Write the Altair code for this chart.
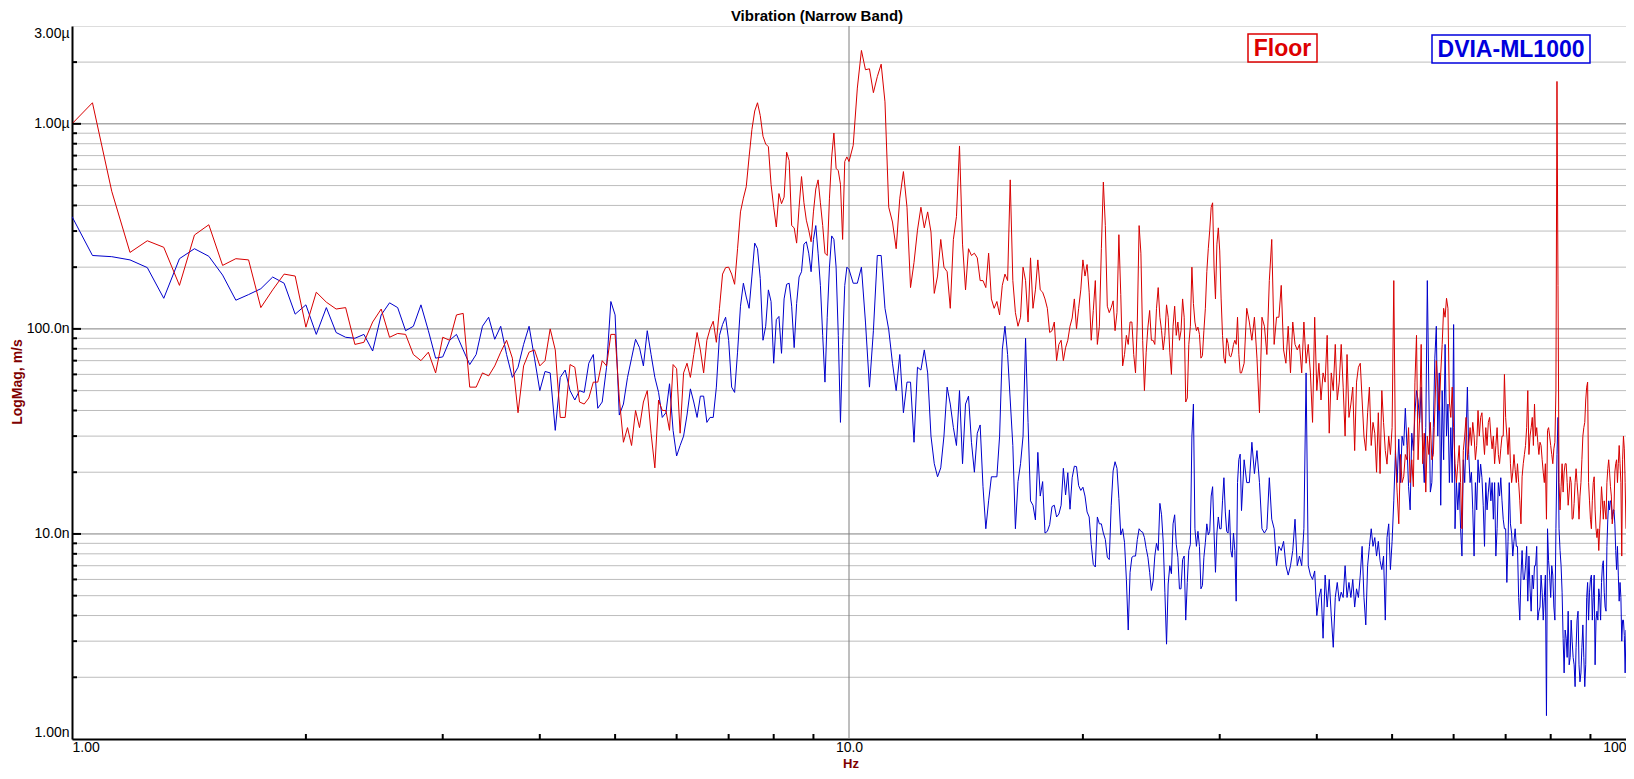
import altair as alt
import pandas as pd

# ---------------- data (magnitudes in nm/s) ----------------
# frequency grids: (start Hz, step Hz)
grid_a = (1.0, 0.0625)
grid_b = (10.0, 0.125)
grid_c = (18.0, 0.125)
grid_e = (32.0, 0.25)
grid_d = (50.0, 0.25)

floor_a = [1000,1267,469,236,269,250,163,287,322,204,220,217,127,155,185,181,
           102,151,135,125,127,84,86,108,125,91,95,94,75,70,77,61,
           91,88,117,119,52,52,61,59,66,77,88,72,39,66,77,79,
           66,70,100,79,37,37,67,65,44,43,46,55,55,70,66,94,
           94,46,28,33,27,40,33,44,50,31,21,45,40,40,32,67,
           64,31,61,68,58,75,96,79,61,88,100,109,86,126,185,199,
           200,185,165,246,372,434,494,690,940,1155,1267,1097,870,797,773,507,
           392,314,457,408,439,727,662,319,311,262,392,553,412,339,303,266,
           372,481,533,412,319,234,228,434,690,902,607,591,507,273,655,690]
dvia_a = [353,228,225,217,199,141,220,246,226,183,138,147,157,179,167,118,
          131,94,127,96,91,90,94,78,117,134,127,98,103,131,98,72,
          73,88,94,79,67,75,103,114,89,103,75,58,65,84,103,72,
          50,62,61,32,58,63,50,45,50,49,68,75,41,44,65,136,
          117,38,43,58,72,89,81,66,98,75,58,49,37,39,54,32,
          24,27,30,38,51,44,37,47,47,35,37,37,52,93,105,114,
          88,52,49,77,129,167,143,126,181,262,246,176,88,103,155,136,
          68,111,115,76,140,165,167,129,81,133,179,190,259,266,234,190,
          273,319,234,163,93,55,114,200,284,273,200,93,35,84,163,200]

floor_b = [655,785,1494,2280,1836,1855,1419,1698,
           1954,1280,392,332,246,434,585,392,
           159,211,303,392,311,372,297,149,
           181,273,200,190,126,273,353,780,
           259,155,246,228,234,222,172,172,
           159,234,140,126,136,117,163,185,
           172,533,172,120,103,114,200,172,
           108,222,126,155,217,155,151,140]
dvia_b = [195,167,167,200,108,52,98,228,
          228,126,99,68,50,75,39,55,
          55,28,65,63,79,61,30,22,
          19,21,30,52,43,33,27,50,
          22,43,47,28,20,31,34,17,
          10.6,14.5,19,19,19,30,79,103,
          75,45,27,10.6,18,22,30,90,
          35,14.5,13.8,11.7,25,15.3,18,10.1]

floor_c = [126,96,98,108,70,84,88,70,
           81,88,103,113,140,100,126,155,
           217,181,206,151,88,123,172,84,
           103,246,520,319,129,120,127,137,
           98,120,288,147,66,75,93,84,
           108,108,75,61,108,319,234,88,
           50,77,102,123,88,88,84,126,
           159,114,98,79,93,131,114,77,
           60,103,129,93,108,88,98,140,
           114,44,46,84,103,200,133,108,
           98,102,94,72,74,98,126,190,
           246,303,392,412,200,140,259,311,
           240,140,93,72,68,90,85,74,
           73,77,84,88,84,114,75,61]
dvia_c = [10.3,11.1,13.6,13.8,12.1,12.5,13.8,20.9,
          15.5,19.9,13.2,18.8,21.4,21.3,17.2,16.3,
          16.9,15.3,12.8,12.1,8.9,7.1,6.9,12.1,
          11.2,11.2,10.1,9.4,7.7,7.5,13.8,20.3,
          22.5,20.9,14.9,9.9,10.6,9.1,6.0,3.4,
          6.5,7.7,7.8,7.8,9.4,10.6,10.3,10.2,
          9.6,8.5,7.7,6.5,5.3,5.9,7.8,9.0,
          8.3,14.1,12.4,9.1,5.2,2.9,5.7,7.0,
          6.4,11.2,12.4,8.9,7.7,5.4,5.4,7.5,
          7.8,3.8,5.8,8.3,8.9,30,43,10.6,
          8.7,10.3,8.7,5.4,5.6,7.7,9.1,11.2,
          9.9,10.3,15.3,17,10.1,6.5,10.1,12.1,
          10.6,10.6,14.5,18.8,12.8,10.3,10.1,13.1,
          8.3,7.7,10.1,8.3,4.7,17.8,23.1,24.5]

floor_e = [61,68,126,108, 88,114,72,39, 114,103,75,172, 273,84,114,114,
           163,79,68,103, 61,108,84,79, 84,61,108,68, 84,61,35,114,
           50,68,45,61, 55,93,31,61, 50,84,45,55, 84,52,30,75,
           37,43,52,25.5, 55,65,68,45, 30,25.5,39,52, 27,35,31,20,
           39,19.7,50,35, 25.5,21.9,30,24.4]
dvia_e = [13,23,17.8,17.8, 28,19.7,25.5,17.8, 10.6,10.1,10.6,18.8, 11.8,10.6,7,8.7,
          8.3,9.2,7,6.3, 7,8.3,11.8,7, 7.8,7,10.6,61, 7,6.3,6,6.6,
          4.0,4.9,5.4,3.1, 6.3,4.4,6,4.0, 2.8,4.9,5.8,4.7, 5.2,4.9,7,4.9,
          5.8,4.9,6,4.4, 5.4,4.9,6.3,8.7, 4.9,3.6,7,8.7, 10.6,8.7,9.6,7.8,
          9.2,7.4,6.7,7.8, 3.8,9.6,11.2,6.7]

floor_d = [33,172,24.4,16, 11.2,24.4,17.8,19, 24.4,23,33,17.8, 23,17,55,93,
           23,37,84,22, 31,16,30,24.4, 35,23,24.4,40, 70,52,40,61,
           84,126,114,141, 126,44,37,52, 33,22,17.8,22, 27,17.8,10.6,25.5,
           30,37,23,27, 33,27,35,30, 23,27,40,30, 37,39,30,24.4,
           33,27,35,37, 30,26,30,22, 27,33,24.4,22, 26,30,30,60,
           37,30,24.4,33, 22,17.8,20,24.4, 20.6,17.8,22,17.8, 14.5,11.2,19,22,
           24.4,27,33,50, 24.4,30,33,37, 27,43,30,33, 28,24.4,28,27,
           23,20,17.8,22, 11.8,32,33,30, 27,24.4,22,26, 28,50,1610,163,
           17.8,13.1,17,22, 16,20,22,22, 17.8,13.8,16,19, 17.8,11.8,11.9,14.1,
           17.8,20.8,17.8,15.3, 11.8,15.3,17.8,23, 30,33,35,45, 52,55,17.8,14.5,
           11.8,10.6,14.5,17.8, 19,13.1,10.6,9.6, 10.6,8.3,10.6,13.1, 17,14.5,11.8,14.5,
           13.1,11.8,17.8,20.8, 23,20,17,15.3, 11.2,12.4,13.1,20, 22,23,17.8,22,
           27,22,17.8,7.8, 23,30,26,17.8,
           10.6]
dvia_d = [9.2,14.5,25.5,17.8, 29,17.8,30,27, 41,27,17,13.1, 31,25.5,39,50,
          45,35,52,25.5, 17.8,33,172,50, 16,17.8,33,72, 103,30,61,13.8,
          50,23,84,30, 43,17.8,33,17.8, 105,10.6,17.8,13.1, 17.8,10.6,7.8,23,
          17.8,30,52,24.4, 17.8,20,13.1,7.8, 17.8,13.1,23,17.8, 21.9,18.8,13.8,8.7,
          17.8,13.1,16,18.8, 14.5,17.8,11.8,17.8, 7.8,10.6,17.8,15.3, 18.8,14.5,11.8,10.6,
          10.6,5.8,9.2,17.8, 11.2,10.1,7.8,9.2, 10.6,8.7,8.7,4.9, 3.8,6.3,8.3,6,
          6,7,8.7,4.7, 7.8,5.4,4.2,6.3, 5.4,7,7,8.7, 3.8,4.2,4.4,6.3,
          5.2,3.8,4.9,6.3, 1.3,10.6,7.4,6.3, 4.9,7,6.3,4.4, 3.8,10.6,24.4,37,
          10.6,8.3,7,5.2, 3.1,2.1,3.4,3.1, 2.5,4.2,2.3,2.5, 3.8,3.0,2.5,2.3,
          1.8,2.8,3.8,4.2, 2.3,1.9,2.1,2.8, 3.6,2.5,1.8,2.3, 4.9,5.8,3.8,5.2,
          6,6.3,3.8,4.9, 6.3,2.3,3.8,4.2, 3.8,5.4,4.9,3.8, 5.8,7,7.4,5.2,
          4.4,4.2,8.7,11.8, 14.5,13.1,14.5,14.5, 11.8,13.1,13.1,11.2, 8.3,6.7,8.7,6.3,
          4.7,5.8,4.9,3.0, 3.8,3.8,3.2,2.1,
          3.4]

y_minor = [2,3,4,5,6,7,8,9,20,30,40,50,60,70,80,90,200,300,400,500,600,700,800,900,2000]
y_major = [10,100,1000]
x_minor = [2,3,4,5,6,7,8,9,20,30,40,50,60,70,80,90]
x_major = [10]
y_label_values = [1,10,100,1000,3000]
x_label_values = [1,10,100]


def series(parts):
    rows = []
    for (start, step), vals in parts:
        for i, v in enumerate(vals):
            rows.append({"hz": start + step * i, "mag": v})
    return pd.DataFrame(rows)


floor_df = series([(grid_a, floor_a), (grid_b, floor_b), (grid_c, floor_c),
                   (grid_e, floor_e), (grid_d, floor_d)])
dvia_df = series([(grid_a, dvia_a), (grid_b, dvia_b), (grid_c, dvia_c),
                  (grid_e, dvia_e), (grid_d, dvia_d)])

# ---------------- layout ----------------
W, H = 1554, 713
FONT = "Liberation Sans"

xscale = alt.Scale(type="log", domain=[1, 100], nice=False, zero=False)
yscale = alt.Scale(type="log", domain=[1, 3000], nice=False, zero=False)

xaxis = alt.Axis(values=x_label_values, title=None, grid=False, ticks=False,
                 domainColor="black", domainWidth=2, labelFlush=True, labelOverlap=False,
                 labelFont=FONT, labelFontSize=14, labelColor="black", labelPadding=1,
                 labelExpr="datum.value == 1 ? '1.00' : datum.value == 10 ? '10.0' : '100'")
yaxis = alt.Axis(values=y_label_values, title=None, grid=False, ticks=False,
                 domainColor="black", domainWidth=2, labelFlush=True, labelOverlap=False,
                 labelFont=FONT, labelFontSize=14, labelColor="black", labelPadding=3,
                 labelExpr="datum.value == 3000 ? '3.00µ' : datum.value == 1000 ? '1.00µ' : "
                           "datum.value == 100 ? '100.0n' : datum.value == 10 ? '10.0n' : '1.00n'")

one = pd.DataFrame({"k": [0]})

grid_minor = alt.Chart(pd.DataFrame({"v": y_minor})).mark_rule(color="#bdbdbd", strokeWidth=1).encode(
    y=alt.Y("v:Q", scale=yscale, axis=yaxis))
grid_major = alt.Chart(pd.DataFrame({"v": y_major})).mark_rule(color="#7f7f7f", strokeWidth=1).encode(
    y=alt.Y("v:Q", scale=yscale, axis=yaxis))
vgrid = alt.Chart(pd.DataFrame({"v": x_major})).mark_rule(color="#7f7f7f", strokeWidth=1).encode(
    x=alt.X("v:Q", scale=xscale, axis=xaxis))

ytick_minor = alt.Chart(pd.DataFrame({"v": y_minor})).mark_rule(color="black", strokeWidth=2).encode(
    y=alt.Y("v:Q", scale=yscale, axis=yaxis), x=alt.value(0), x2=alt.value(5))
ytick_major = alt.Chart(pd.DataFrame({"v": y_major})).mark_rule(color="black", strokeWidth=2).encode(
    y=alt.Y("v:Q", scale=yscale, axis=yaxis), x=alt.value(0), x2=alt.value(9))
xtick_minor = alt.Chart(pd.DataFrame({"v": x_minor})).mark_rule(color="black", strokeWidth=2).encode(
    x=alt.X("v:Q", scale=xscale, axis=xaxis), y=alt.value(H - 5), y2=alt.value(H))

blue_line = alt.Chart(dvia_df).mark_line(color="#0000CC", strokeWidth=1, clip=True).encode(
    x=alt.X("hz:Q", scale=xscale, axis=xaxis), y=alt.Y("mag:Q", scale=yscale, axis=yaxis))
red_line = alt.Chart(floor_df).mark_line(color="#D80000", strokeWidth=1, clip=True).encode(
    x=alt.X("hz:Q", scale=xscale, axis=xaxis), y=alt.Y("mag:Q", scale=yscale, axis=yaxis))

box_floor = alt.Chart(one).mark_rect(fill="white", stroke="#DD0000", strokeWidth=1.5).encode(
    x=alt.value(1176), x2=alt.value(1245), y=alt.value(8), y2=alt.value(36))
box_dvia = alt.Chart(one).mark_rect(fill="white", stroke="#0000DD", strokeWidth=1.5).encode(
    x=alt.value(1360), x2=alt.value(1518), y=alt.value(9), y2=alt.value(37))
txt_floor = alt.Chart(one).mark_text(text="Floor", font=FONT, fontSize=23, fontWeight="bold",
                                     color="#DD0000", align="center", baseline="middle").encode(
    x=alt.value(1210.5), y=alt.value(23))
txt_dvia = alt.Chart(one).mark_text(text="DVIA-ML1000", font=FONT, fontSize=23, fontWeight="bold",
                                    color="#0000DD", align="center", baseline="middle").encode(
    x=alt.value(1439), y=alt.value(24))

title_txt = alt.Chart(one).mark_text(text="Vibration (Narrow Band)", font=FONT, fontSize=15,
                                     fontWeight="bold", color="black", align="center",
                                     baseline="middle").encode(x=alt.value(745), y=alt.value(-10))
ytitle = alt.Chart(one).mark_text(text="LogMag, m/s", font=FONT, fontSize=14, fontWeight="bold",
                                  color="#800000", angle=270, align="center",
                                  baseline="middle").encode(x=alt.value(-54), y=alt.value(356))
xtitle = alt.Chart(one).mark_text(text="Hz", font=FONT, fontSize=13, fontWeight="bold",
                                  color="#800000", align="center",
                                  baseline="alphabetic").encode(x=alt.value(779), y=alt.value(742))

chart = alt.layer(
    grid_minor, grid_major, vgrid, blue_line, red_line,
    ytick_minor, ytick_major, xtick_minor,
    box_floor, box_dvia, txt_floor, txt_dvia, title_txt, ytitle, xtitle,
).properties(
    width=W, height=H,
    padding={"left": 64, "top": 18, "right": 0, "bottom": 32},
    autosize=alt.AutoSizeParams(type="none"),
).configure_view(fill="#FFFFEB", stroke=None).configure(background="white")

chart.save("out.html", embed_options={"renderer": "svg", "actions": False})
